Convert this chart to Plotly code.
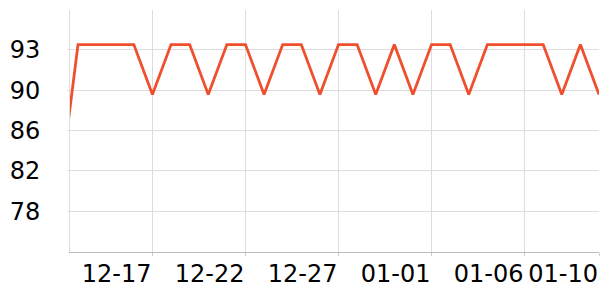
import plotly.graph_objects as go

dates = [
    "2023-12-12", "2023-12-13", "2023-12-14", "2023-12-15", "2023-12-16",
    "2023-12-17", "2023-12-18", "2023-12-19", "2023-12-20", "2023-12-21",
    "2023-12-22", "2023-12-23", "2023-12-24", "2023-12-25", "2023-12-26",
    "2023-12-27", "2023-12-28", "2023-12-29", "2023-12-30", "2023-12-31",
    "2024-01-01", "2024-01-02", "2024-01-03", "2024-01-04", "2024-01-05",
    "2024-01-06", "2024-01-07", "2024-01-08", "2024-01-09", "2024-01-10",
]
values = [
    80.0, 93.9, 93.9, 93.9, 93.9,
    89.2, 93.9, 93.9, 89.2, 93.9,
    93.9, 89.2, 93.9, 93.9, 89.2,
    93.9, 93.9, 89.2, 93.9, 89.2,
    93.9, 93.9, 89.2, 93.9, 93.9,
    93.9, 93.9, 89.2, 93.9, 89.2,
]
y_tickvals = [78.2, 82.0, 85.8, 89.6, 93.4]
y_ticktext = ["78", "82", "86", "90", "93"]
x_tickvals = ["2023-12-17", "2023-12-22", "2023-12-27", "2024-01-01", "2024-01-06", "2024-01-10"]

fig = go.Figure()
fig.add_trace(go.Scatter(
    x=dates, y=values, mode="lines",
    line=dict(color="#ef4f2d", width=2.8),
    hoverinfo="skip",
))

font = dict(family="DejaVu Sans", size=24, color="#000000")

fig.update_layout(
    width=600, height=300,
    margin=dict(l=70, r=1, t=10, b=48),
    paper_bgcolor="white", plot_bgcolor="white",
    showlegend=False,
    font=font,
)
fig.update_xaxes(
    type="date",
    range=["2023-12-12 13:40", "2024-01-10 00:00"],
    tickvals=x_tickvals, tickformat="%m-%d",
    ticklabelposition="outside left",
    ticklabeloverflow="allow",
    tickangle=0,
    showgrid=True, gridcolor="#dddddd", gridwidth=1,
    showline=True, linecolor="#bbbbbb", linewidth=1,
    ticks="outside", ticklen=3, tickcolor="#cccccc",
    zeroline=False, tickfont=font,
)
fig.update_yaxes(
    range=[74.36, 97.16],
    tickvals=y_tickvals, ticktext=y_ticktext,
    showgrid=True, gridcolor="#dddddd", gridwidth=1,
    showline=True, linecolor="#dddddd", linewidth=1,
    ticks="outside", ticklen=2, tickcolor="#dddddd",
    ticklabelstandoff=22,
    zeroline=False, tickfont=font,
)

fig.write_html("out.html")
